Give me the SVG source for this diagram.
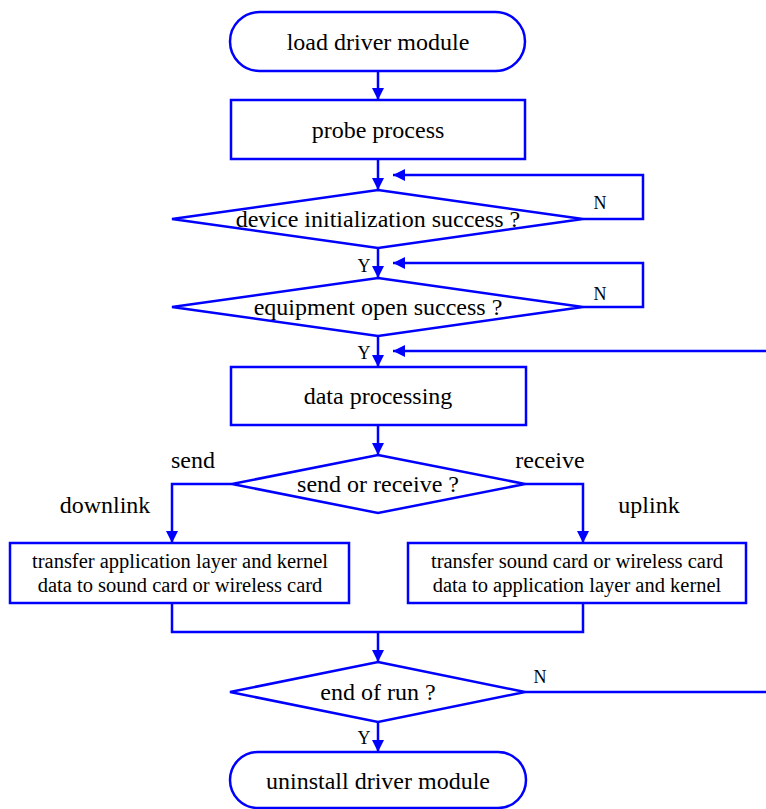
<svg xmlns="http://www.w3.org/2000/svg" width="766" height="809" viewBox="0 0 766 809">
  <defs>
    <marker id="arrow" viewBox="0 0 12 12" refX="12" refY="6" markerWidth="12" markerHeight="12" markerUnits="userSpaceOnUse" orient="auto">
      <path d="M0,0 L12,6 L0,12 Z" fill="#0000ff"/>
    </marker>
  </defs>
  <style>
    .shape { fill: #ffffff; stroke: #0000ff; stroke-width: 2.5; }
    .edge { fill: none; stroke: #0000ff; stroke-width: 2.5; }
    .edge-arrow { fill: none; stroke: #0000ff; stroke-width: 2.5; marker-end: url(#arrow); }
    text { font-family: "Liberation Serif", "Times New Roman", serif; fill: #000000; }
    .main { font-size: 24px; text-anchor: middle; }
    .small { font-size: 20.5px; text-anchor: middle; }
    .label { font-size: 24px; text-anchor: middle; }
    .yn { font-size: 18px; text-anchor: middle; }
  </style>

  <rect width="766" height="809" fill="#ffffff"/>

  <!-- connectors -->
  <g id="connectors">
    <path class="edge-arrow" d="M378,71 V100"/>
    <path class="edge-arrow" d="M378,159 V190"/>
    <path class="edge-arrow" d="M583,219 H643 V175 H393"/>
    <path class="edge-arrow" d="M378,248 V278"/>
    <path class="edge-arrow" d="M583,307 H643 V263 H393"/>
    <path class="edge-arrow" d="M378,336 V367"/>
    <path class="edge-arrow" d="M766,351 H393"/>
    <path class="edge-arrow" d="M378,425 V455"/>
    <path class="edge-arrow" d="M232,484 H172 V543"/>
    <path class="edge-arrow" d="M525,484 H583 V543"/>
    <path class="edge" d="M172,603 V632 H583 V603"/>
    <path class="edge-arrow" d="M378,632 V662"/>
    <path class="edge" d="M525,692 H766"/>
    <path class="edge-arrow" d="M378,722 V752"/>

    <text class="yn" x="600" y="209">N</text>
    <text class="yn" x="600" y="300">N</text>
    <text class="yn" x="540" y="683">N</text>
    <text class="yn" x="364" y="272">Y</text>
    <text class="yn" x="364" y="359">Y</text>
    <text class="yn" x="364" y="744">Y</text>

    <text class="label" x="193" y="468">send</text>
    <text class="label" x="550" y="468">receive</text>
    <text class="label" x="105" y="513">downlink</text>
    <text class="label" x="649" y="513">uplink</text>
  </g>

  <!-- nodes -->
  <g id="load">
    <rect class="shape" x="230" y="12" width="295" height="59" rx="29.5" ry="29.5"/>
    <text class="main" x="378" y="50">load driver module</text>
  </g>

  <g id="probe">
    <rect class="shape" x="231" y="100" width="294" height="59"/>
    <text class="main" x="378" y="138">probe process</text>
  </g>

  <g id="device-init">
    <polygon class="shape" points="378,190 583,219 378,248 172,219"/>
    <text class="main" x="378" y="227">device initialization success ?</text>
  </g>

  <g id="equipment-open">
    <polygon class="shape" points="378,278 583,307 378,336 172,307"/>
    <text class="main" x="378" y="315">equipment open success ?</text>
  </g>

  <g id="data-processing">
    <rect class="shape" x="231" y="367" width="295" height="58"/>
    <text class="main" x="378" y="404">data processing</text>
  </g>

  <g id="send-or-receive">
    <polygon class="shape" points="378,455 525,484 378,513 232,484"/>
    <text class="main" x="378" y="492">send or receive ?</text>
  </g>

  <g id="downlink-transfer">
    <rect class="shape" x="10" y="543" width="339" height="60"/>
    <text class="small" x="180" y="568">transfer application layer and kernel</text>
    <text class="small" x="180" y="592">data to sound card or wireless card</text>
  </g>

  <g id="uplink-transfer">
    <rect class="shape" x="408" y="543" width="338" height="60"/>
    <text class="small" x="577" y="568">transfer sound card or wireless card</text>
    <text class="small" x="577" y="592">data to application layer and kernel</text>
  </g>

  <g id="end-of-run">
    <polygon class="shape" points="378,662 525,692 378,722 230,692"/>
    <text class="main" x="378" y="700">end of run ?</text>
  </g>

  <g id="uninstall">
    <rect class="shape" x="230" y="752" width="296" height="56" rx="28" ry="28"/>
    <text class="main" x="378" y="789">uninstall driver module</text>
  </g>
</svg>
